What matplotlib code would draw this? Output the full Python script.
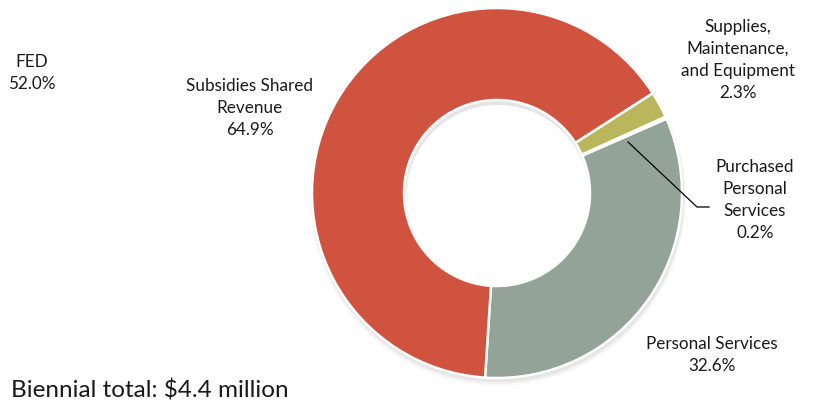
import matplotlib
matplotlib.use("Agg")
import matplotlib.pyplot as plt
from matplotlib.patches import Wedge

categories = ["Personal Services", "Purchased Personal Services",
              "Supplies, Maintenance, and Equipment", "Subsidies Shared Revenue"]
values = [32.6, 0.2, 2.3, 64.9]
colors = ["#93A398", "#C9CFC4", "#B9B65B", "#D0533F"]
label_texts = ["Personal Services\n32.6%", "Purchased\nPersonal\nServices\n0.2%",
               "Supplies,\nMaintenance,\nand Equipment\n2.3%", "Subsidies Shared\nRevenue\n64.9%"]
other_label = "FED\n52.0%"
total_text = "Biennial total: $4.4 million"

W, H = 820, 404
plt.rcParams["font.family"] = ["Lato", "DejaVu Sans"]
fig = plt.figure(figsize=(W / 100, H / 100), dpi=100)
ax = fig.add_axes([0, 0, 1, 1])

cx, cy, R = 497, H - 193, 185
for i, a in enumerate([0.045, 0.035, 0.025]):
    ax.add_patch(Wedge((cx + 1, cy - 3 - i), R + 1 + i, 0, 360, width=95,
                       facecolor="#000000", alpha=a, edgecolor="none", zorder=0))

ax.pie(values, colors=colors, startangle=-93.7, counterclock=True,
       center=(cx, cy), radius=R, frame=True,
       wedgeprops=dict(width=92, edgecolor="white", linewidth=1.8))
ax.set_xlim(0, W)
ax.set_ylim(0, H)
ax.set_aspect("equal")
ax.axis("off")

fs = 12.3
ls = 1.45
tc = "#1a1a1a"
ax.text(250, H - 108, label_texts[3], ha="center", va="center", fontsize=fs, linespacing=ls, color=tc)
ax.text(738, H - 60, label_texts[2], ha="center", va="center", fontsize=fs, linespacing=ls, color=tc)
ax.text(755, H - 200, label_texts[1], ha="center", va="center", fontsize=fs, linespacing=ls, color=tc)
ax.text(712, H - 355, label_texts[0], ha="center", va="center", fontsize=fs, linespacing=ls, color=tc)
ax.text(32, H - 73, other_label, ha="center", va="center", fontsize=fs, linespacing=ls, color=tc)
ax.text(11, H - 390, total_text, ha="left", va="center", fontsize=17.5, color=tc)

ax.plot([628, 697, 709], [H - 142, H - 207, H - 207], color="black", linewidth=0.9)

fig.savefig("out.png", dpi=100)
